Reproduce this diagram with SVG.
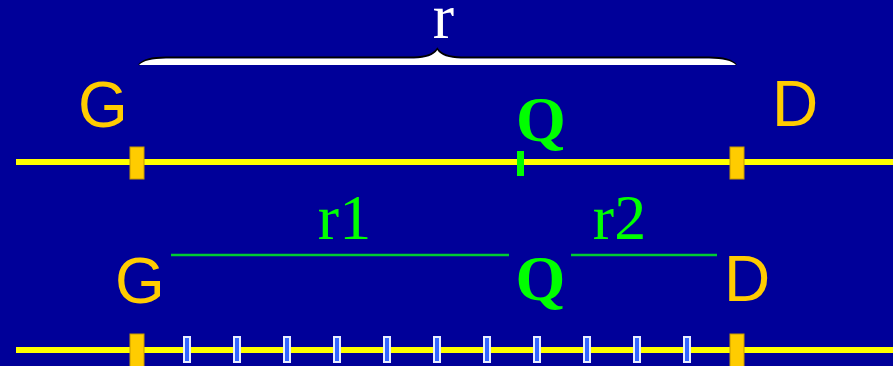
<svg xmlns="http://www.w3.org/2000/svg" width="893" height="366" viewBox="0 0 893 366">
<style>
.sans{font-family:"Liberation Sans",Arial,sans-serif;font-size:64px;fill:#FFCC00}
.serif{font-family:"Liberation Serif","Times New Roman",serif;font-size:64px}
.q{font-weight:bold;fill:#00FF00}
.lbl{fill:#00FF00}
.rail{stroke:#FFFF00;stroke-width:6}
.mark{fill:#FFCC00;stroke:#C89A00;stroke-width:1}
.tick{fill:#3366FF;stroke:#E8EEFF;stroke-width:2}
.dist{stroke:#00CC33;stroke-width:2.5}
</style>
<rect width="893" height="366" fill="#000099"/>
<g id="connectors">
<line class="rail" x1="16" y1="162" x2="893" y2="162"/>
<line class="rail" x1="16" y1="350" x2="893" y2="350"/>
<line class="dist" x1="171" y1="255" x2="509" y2="255"/>
<line class="dist" x1="571" y1="255" x2="717" y2="255"/>
<g id="brace">
<path d="M139,65 Q145,57.5 166,57.5 L414,57.5 Q432,57 437.3,49 Q442.5,57 461,57.5 L709,57.5 Q730,57.5 736,65" fill="none" stroke="#000" stroke-width="2"/>
<path d="M139,65 Q145,58.5 166,58.5 L414,58.5 Q432,58 437.3,50 Q442.5,58 461,58.5 L709,58.5 Q730,58.5 736,65 Z" fill="#FFFFFF"/>
</g>
</g>
<g id="label-r"><text class="serif" x="443.5" y="38" text-anchor="middle" fill="#FFFFFF">r</text></g>
<g id="G-top">
<text class="sans" x="78" y="127">G</text>
<rect class="mark" x="130" y="147" width="14" height="32"/>
</g>
<g id="D-top">
<text class="sans" x="772" y="126">D</text>
<rect class="mark" x="730" y="147" width="14" height="32"/>
</g>
<g id="Q-top">
<text class="serif q" x="541" y="141" text-anchor="middle">Q</text>
<rect x="517" y="151" width="7" height="25" fill="#00FF00"/>
</g>
<g id="G-bottom">
<text class="sans" x="115" y="303">G</text>
<rect class="mark" x="130" y="334" width="14" height="33"/>
</g>
<g id="Q-bottom">
<text class="serif q" x="540.5" y="300" text-anchor="middle">Q</text>
</g>
<g id="D-bottom">
<text class="sans" x="724" y="301">D</text>
<rect class="mark" x="730" y="334" width="14" height="33"/>
</g>
<g id="label-r1"><text class="serif lbl" x="344.5" y="239" text-anchor="middle">r1</text></g>
<g id="label-r2"><text class="serif lbl" x="619.5" y="239" text-anchor="middle">r2</text></g>
<g id="ticks">
<rect class="tick" x="184" y="337" width="6" height="25"/>
<rect class="tick" x="234" y="337" width="6" height="25"/>
<rect class="tick" x="284" y="337" width="6" height="25"/>
<rect class="tick" x="334" y="337" width="6" height="25"/>
<rect class="tick" x="384" y="337" width="6" height="25"/>
<rect class="tick" x="434" y="337" width="6" height="25"/>
<rect class="tick" x="484" y="337" width="6" height="25"/>
<rect class="tick" x="534" y="337" width="6" height="25"/>
<rect class="tick" x="584" y="337" width="6" height="25"/>
<rect class="tick" x="634" y="337" width="6" height="25"/>
<rect class="tick" x="684" y="337" width="6" height="25"/>
</g>
</svg>
